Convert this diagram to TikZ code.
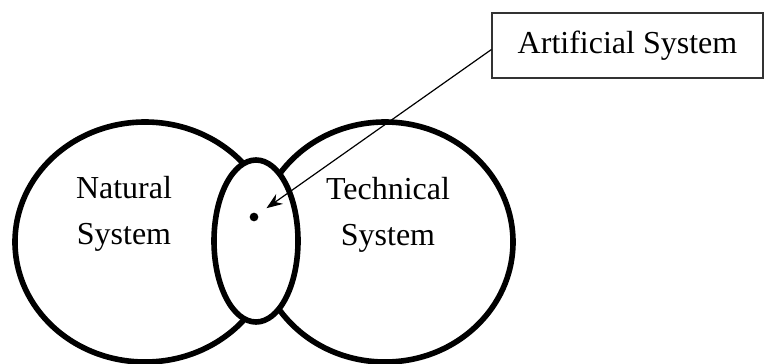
\documentclass[tikz,border=0pt]{standalone}
\usepackage{fontspec}
\setmainfont{Liberation Serif}
\usetikzlibrary{shapes.geometric,positioning,arrows.meta}

\begin{document}
\begin{tikzpicture}[x=0.75pt,y=-0.75pt,
		sysring/.style={ellipse,draw=black,line width=4.2pt,inner sep=0pt},
		systext/.style={align=center,font=\fontsize{24}{34.5}\selectfont,inner sep=0pt}]
		\useasboundingbox (0,0) rectangle (764,364);
		% the two big systems
		\node[sysring,minimum width=195pt,minimum height=180pt] (natural) at (145,242) {};
		\node[sysring,minimum width=192pt,minimum height=180pt] (technical) at (385,242) {};
		% the part they share, white inside
		\node[sysring,fill=white,minimum width=63pt,minimum height=121.5pt] (overlap) at (256,241) {};
		\node[circle,fill=black,inner sep=0pt,minimum size=6.5pt] (dot) at (254,217) {};
		\node[systext] (naturaltxt) at (124,214) {Natural\\System};
		\node[systext] (technicaltxt) at (388,215) {Technical\\System};
		\node[rectangle,draw=black!80,line width=1.1pt,minimum width=203pt,minimum height=48.75pt,font=\fontsize{24}{30}\selectfont] (artbox) at (627.5,45.5) {Artificial System};

		\draw [line width=0.9pt,-{Stealth[length=12pt,width=9pt]},shorten >=8pt] ([yshift=-3pt]artbox.west) -- (dot);
	\end{tikzpicture}
\end{document}
